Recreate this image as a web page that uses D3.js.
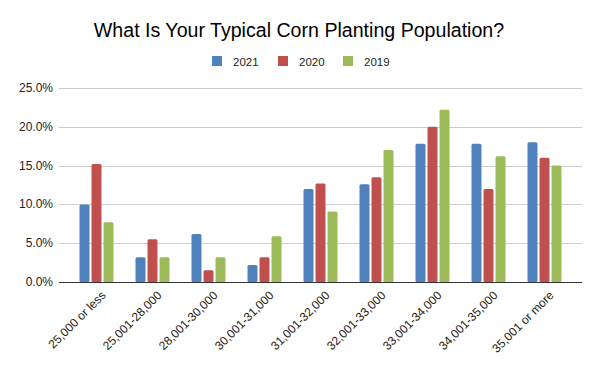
<!DOCTYPE html>
<html><head><meta charset="utf-8">
<script src="https://cdn.jsdelivr.net/npm/d3@7"></script>
<style>body{margin:0;background:#fff;} text{font-family:"Liberation Sans",Arial,sans-serif;}</style>
</head><body>
<svg id="c" width="600" height="371"></svg>
<script>
const categories = ["25,000 or less","25,001-28,000","28,001-30,000","30,001-31,000","31,001-32,000","32,001-33,000","33,001-34,000","34,001-35,000","35,001 or more"];
const seriesNames = ["2021","2020","2019"];
const values2021 = [10.0, 3.2, 6.2, 2.2, 12.0, 12.6, 17.8, 17.8, 18.0];
const values2020 = [15.2, 5.5, 1.5, 3.2, 12.7, 13.5, 20.0, 12.0, 16.0];
const values2019 = [7.7, 3.2, 3.2, 5.9, 9.1, 17.0, 22.2, 16.2, 15.0];
const colors = ["#4f81bd", "#c0504d", "#9bbb59"];
const yTicks = [0, 5, 10, 15, 20, 25];

const series = [values2021, values2020, values2019];
const svg = d3.select("#c");
const plot = {left: 59, right: 582, top: 88, bottom: 282};

const y = d3.scaleLinear().domain([0, 25]).range([plot.bottom, plot.top]);
const x = d3.scaleBand().domain(categories).range([plot.left + 9.5, plot.right - 9.5]).padding(0);
const inner = d3.scaleBand().domain(seriesNames).range([0, 34]).paddingInner(0.17);

// gridlines
svg.append("g").selectAll("line").data(yTicks.filter(d => d > 0)).join("line")
  .attr("x1", plot.left).attr("x2", plot.right)
  .attr("y1", d => Math.round(y(d)) + 0.5).attr("y2", d => Math.round(y(d)) + 0.5)
  .attr("stroke", "#cccccc").attr("stroke-width", 1);

// y labels
svg.append("g").selectAll("text").data(yTicks).join("text")
  .attr("x", 53).attr("y", d => y(d) + 4)
  .attr("text-anchor", "end").attr("font-size", 12).attr("fill", "#222")
  .text(d => d.toFixed(1) + "%");

// bars
seriesNames.forEach((s, si) => {
  svg.append("g").selectAll("rect").data(categories).join("rect")
    .attr("x", c => x(c) + (x.bandwidth() - 34) / 2 + inner(s))
    .attr("width", inner.bandwidth())
    .attr("y", (c, i) => y(series[si][i]))
    .attr("height", (c, i) => plot.bottom - y(series[si][i]))
    .attr("rx", 1.5)
    .attr("fill", colors[si]);
});

// baseline
svg.append("line").attr("x1", plot.left).attr("x2", plot.right)
  .attr("y1", plot.bottom + 0.5).attr("y2", plot.bottom + 0.5)
  .attr("stroke", "#333").attr("stroke-width", 1);

// x labels
svg.append("g").selectAll("text").data(categories).join("text")
  .attr("transform", c => `translate(${x(c) + x.bandwidth() / 2 + 10},${plot.bottom + 14}) rotate(-45)`)
  .attr("text-anchor", "end").attr("font-size", 12).attr("fill", "#222")
  .text(c => c);

// title
svg.append("text").attr("x", 299).attr("y", 37).attr("text-anchor", "middle")
  .attr("font-size", 19.6).attr("fill", "#000").text("What Is Your Typical Corn Planting Population?");

// legend
const legendX = [212, 278, 343];
const lg = svg.append("g").selectAll("g").data(seriesNames).join("g")
  .attr("transform", (d, i) => `translate(${legendX[i]},56)`);
lg.append("rect").attr("width", 10).attr("height", 10).attr("fill", (d, i) => colors[i]);
lg.append("text").attr("x", 21).attr("y", 9.5).attr("font-size", 11.5).attr("fill", "#222").text(d => d);
</script>
</body></html>
